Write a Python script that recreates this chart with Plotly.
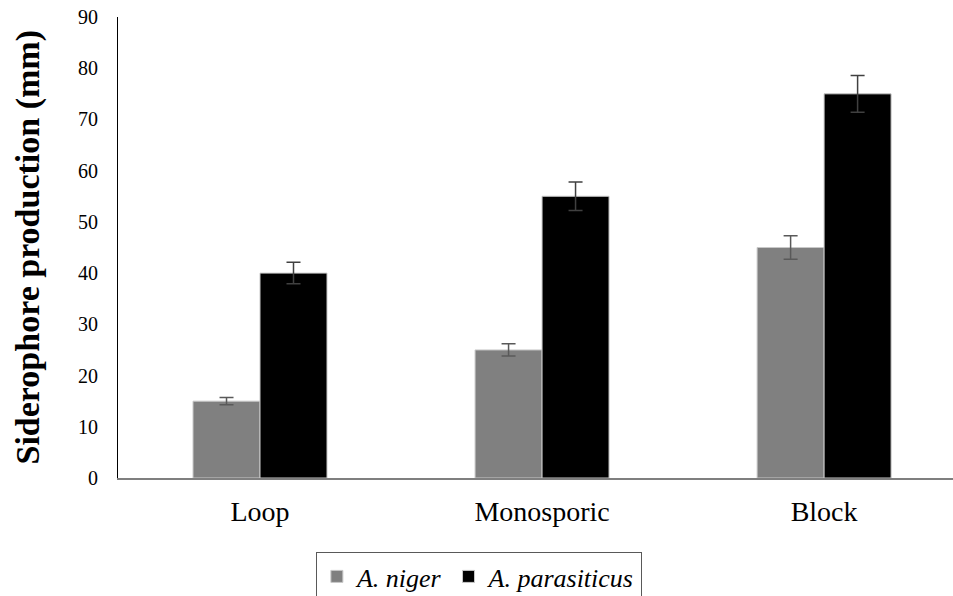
import plotly.graph_objects as go

categories = ["Loop", "Monosporic", "Block"]
niger = [15, 25, 45]
niger_err = [0.7, 1.2, 2.3]
parasiticus = [40, 55, 75]
parasiticus_err = [2.1, 2.8, 3.6]
y_ticks = [0, 10, 20, 30, 40, 50, 60, 70, 80, 90]

serif = "Liberation Serif, Times New Roman, serif"

fig = go.Figure()
fig.add_trace(go.Bar(
    x=categories, y=niger, name="A. niger",
    marker=dict(color="#808080", line=dict(color="#c8c8c8", width=1)),
    error_y=dict(type="data", array=niger_err, visible=True, color="#595959", thickness=1.5, width=7),
))
fig.add_trace(go.Bar(
    x=categories, y=parasiticus, name="A. parasiticus",
    marker=dict(color="#000000", line=dict(color="#c8c8c8", width=1)),
    error_y=dict(type="data", array=parasiticus_err, visible=True, color="#404040", thickness=1.5, width=7),
))

fig.update_layout(
    width=953, height=596,
    margin=dict(l=118, r=0, t=17, b=118, autoexpand=False),
    paper_bgcolor="white", plot_bgcolor="white",
    barmode="group", bargap=0.525, bargroupgap=0,
    font=dict(family=serif, color="#000000"),
    showlegend=True,
    legend=dict(
        orientation="h", xref="container", yref="container",
        x=0.5025, xanchor="center", y=1 - 552 / 596, yanchor="top",
        font=dict(family=serif, size=26, style="italic"),
        bordercolor="#595959", borderwidth=1,
        itemwidth=30, traceorder="normal",
    ),
    xaxis=dict(
        range=[-0.5035, 2.457], showgrid=False, showline=True,
        linecolor="#7f7f7f", linewidth=1.5, ticks="", ticklabelstandoff=8,
        tickfont=dict(family=serif, size=28, color="#000"),
        automargin=False,
    ),
    yaxis=dict(
        range=[0, 90], tickvals=y_ticks, showgrid=False, showline=True,
        linecolor="#000000", linewidth=1, ticks="", ticklabelstandoff=15,
        tickfont=dict(family=serif, size=20, color="#000"),
        zeroline=False, automargin=False,
    ),
    annotations=[dict(
        text="<b>Siderophore production (mm)</b>", textangle=-90,
        xref="paper", yref="paper", x=-0.1078, y=0.5,
        xanchor="center", yanchor="middle", showarrow=False,
        font=dict(family=serif, size=34, color="#000"),
    )],
)

fig.write_html(
    "out.html",
    config={"displayModeBar": False},
    post_script="document.body.style.margin='0';document.body.style.overflow='hidden';",
)
